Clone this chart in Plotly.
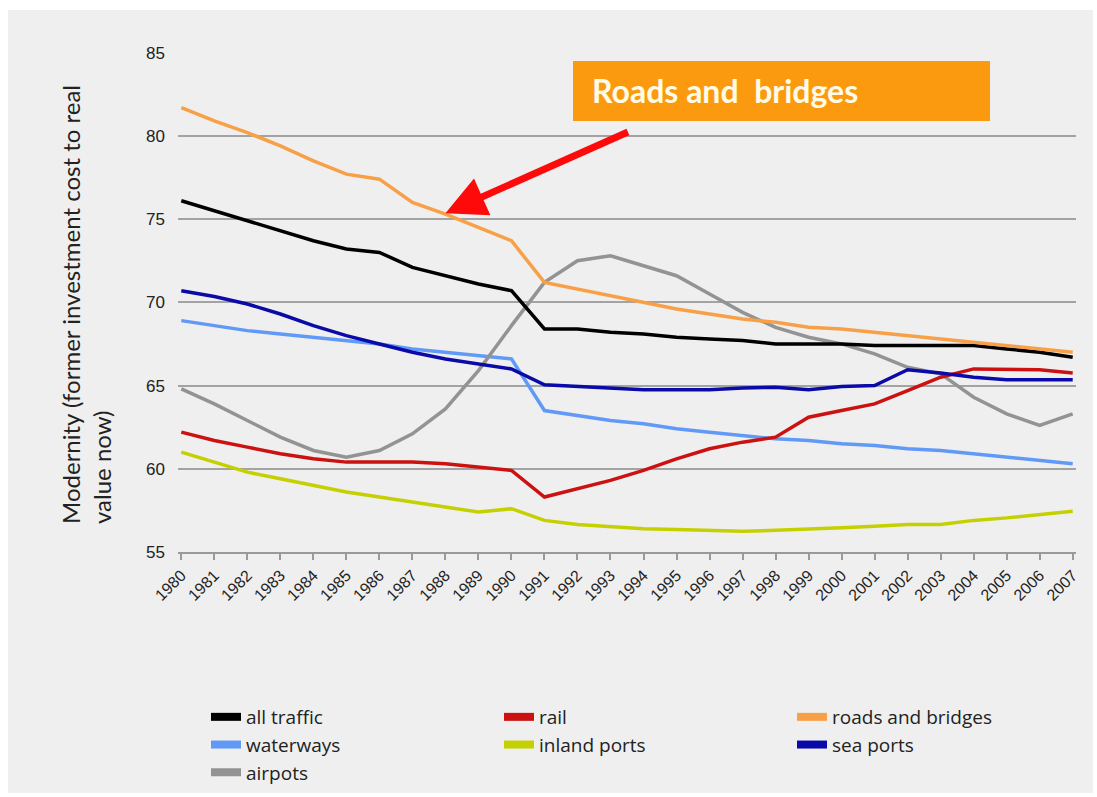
import plotly.graph_objects as go

years = list(range(1980, 2008))

all_traffic = [76.1, 75.5, 74.9, 74.3, 73.7, 73.2, 73.0, 72.1, 71.6, 71.1, 70.7, 68.4, 68.4, 68.2,
               68.1, 67.9, 67.8, 67.7, 67.5, 67.5, 67.5, 67.4, 67.4, 67.4, 67.4, 67.2, 67.0, 66.7]
waterways = [68.9, 68.6, 68.3, 68.1, 67.9, 67.7, 67.5, 67.2, 67.0, 66.8, 66.6, 63.5, 63.2, 62.9,
             62.7, 62.4, 62.2, 62.0, 61.8, 61.7, 61.5, 61.4, 61.2, 61.1, 60.9, 60.7, 60.5, 60.3]
airpots = [64.8, 63.9, 62.9, 61.9, 61.1, 60.7, 61.1, 62.1, 63.6, 65.9, 68.6, 71.2, 72.5, 72.8,
           72.2, 71.6, 70.5, 69.4, 68.5, 67.9, 67.5, 66.9, 66.1, 65.7, 64.3, 63.3, 62.6, 63.3]
rail = [62.2, 61.7, 61.3, 60.9, 60.6, 60.4, 60.4, 60.4, 60.3, 60.1, 59.9, 58.3, 58.8, 59.3,
        59.9, 60.6, 61.2, 61.6, 61.9, 63.1, 63.5, 63.9, 64.7, 65.5, 66.0, 66.0, 65.95, 65.75]
inland_ports = [61.0, 60.4, 59.8, 59.4, 59.0, 58.6, 58.3, 58.0, 57.7, 57.4, 57.6, 56.9, 56.65, 56.5,
                56.4, 56.35, 56.3, 56.25, 56.3, 56.35, 56.45, 56.55, 56.65, 56.65, 56.9, 57.05, 57.25, 57.45]
roads_bridges = [81.7, 80.9, 80.2, 79.4, 78.5, 77.7, 77.4, 76.0, 75.3, 74.5, 73.7, 71.2, 70.8, 70.4,
                 70.0, 69.6, 69.3, 69.0, 68.8, 68.5, 68.4, 68.2, 68.0, 67.8, 67.6, 67.4, 67.2, 67.0]
sea_ports = [70.7, 70.35, 69.9, 69.3, 68.6, 68.0, 67.5, 67.0, 66.6, 66.3, 66.0, 65.05, 64.95, 64.85,
             64.75, 64.75, 64.75, 64.85, 64.9, 64.75, 64.95, 65.0, 65.95, 65.75, 65.5, 65.35, 65.35, 65.35]

y_ticks = [55, 60, 65, 70, 75, 80, 85]
highlight_label = "Roads and  bridges"
highlight_year = 1988

# (name, values, colour, legend position) in drawing order
series = [
    ("waterways", waterways, "#6199f7", 4),
    ("airpots", airpots, "#939393", 7),
    ("inland ports", inland_ports, "#c5d000", 5),
    ("rail", rail, "#cc1111", 2),
    ("sea ports", sea_ports, "#0a0aa8", 6),
    ("all traffic", all_traffic, "#000000", 1),
    ("roads and bridges", roads_bridges, "#f8a048", 3),
]

fig = go.Figure()
for name, vals, color, rank in series:
    fig.add_trace(go.Scatter(
        x=years, y=vals, mode="lines", name=name,
        line=dict(color=color, width=3.5),
        legendgroup=name, showlegend=False,
    ))
    # legend entry with a thicker swatch than the plotted line
    fig.add_trace(go.Scatter(
        x=[None], y=[None], mode="lines", name=name,
        line=dict(color=color, width=8),
        legendgroup=name, legendrank=rank, hoverinfo="skip",
    ))

W, H = 1097, 797
ML, MR, MT, MB = 178, 21, 52, 245
PW, PH = W - ML - MR, H - MT - MB


def px_x(p):
    return (p - ML) / PW


def px_y(p):
    return (H - MB - p) / PH


fig.update_layout(
    width=W, height=H,
    margin=dict(l=ML, r=MR, t=MT, b=MB, pad=0, autoexpand=False),
    paper_bgcolor="white",
    plot_bgcolor="#efefef",
    font=dict(family="Lato", color="#222222"),
    xaxis=dict(
        range=[1979.9, 2007.1],
        tickmode="array", tickvals=years, ticktext=[str(y) for y in years],
        tickangle=-45,
        tickfont=dict(family="Liberation Sans", size=16, color="#222222"),
        showgrid=False, zeroline=False,
        showline=True, linecolor="#9a9a9a", linewidth=1.5,
        ticks="outside", ticklen=6, tickcolor="#9a9a9a", tickwidth=1.5,
    ),
    yaxis=dict(
        range=[55, 85.04],
        tickmode="array", tickvals=y_ticks,
        tickfont=dict(family="Liberation Sans", size=17, color="#222222"),
        showgrid=True, gridcolor="#a3a3a3", gridwidth=2,
        zeroline=False, showline=False,
        ticklabelstandoff=12,
    ),
    showlegend=True,
    legend=dict(
        orientation="h",
        x=px_x(206), xanchor="left",
        y=px_y(698), yanchor="top",
        entrywidth=248, entrywidthmode="pixels",
        font=dict(family="Open Sans", size=19, color="#222222"),
        bgcolor="rgba(0,0,0,0)",
        traceorder="normal",
        itemwidth=30,
        tracegroupgap=0,
    ),
    shapes=[
        # grey panel behind the whole chart
        dict(type="rect", xref="paper", yref="paper", layer="below",
             x0=px_x(8), x1=px_x(1093), y0=px_y(793), y1=px_y(10),
             fillcolor="#efefef", line=dict(width=0)),
        # orange call-out box
        dict(type="rect", xref="paper", yref="paper", layer="above",
             x0=px_x(573), x1=px_x(990), y0=px_y(121), y1=px_y(61),
             fillcolor="#fb9a0e", line=dict(width=0)),
    ],
    annotations=[
        dict(text="Modernity (former investment cost to real<br>value now)",
             xref="paper", yref="paper", x=px_x(86), y=px_y(305),
             xanchor="center", yanchor="middle", textangle=-90, align="left",
             showarrow=False, font=dict(family="Lato", size=24, color="#222222")),
        dict(text=highlight_label.replace("  ", "&nbsp; "),
             xref="paper", yref="paper", x=px_x(590), y=px_y(91),
             xanchor="left", yanchor="middle", showarrow=False,
             font=dict(family="Lato", size=32, color="#fffbe6", weight="bold")),
        dict(text="", x=highlight_year,
             y=roads_bridges[years.index(highlight_year)] + 0.05,
             xref="x", yref="y", showarrow=True,
             ax=184, ay=-82, axref="pixel", ayref="pixel",
             arrowcolor="#ff0a0a", arrowwidth=7, arrowhead=2, arrowsize=1.15,
             standoff=0),
    ],
)

fig.write_html("out.html")
